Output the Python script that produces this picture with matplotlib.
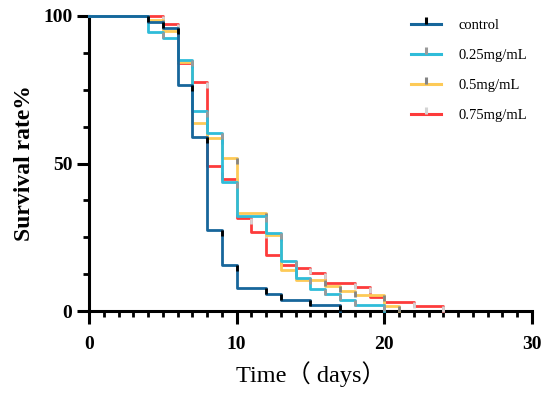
import matplotlib
matplotlib.use("Agg")
import matplotlib.pyplot as plt
from matplotlib.lines import Line2D
from matplotlib.ticker import MultipleLocator

# survival curves: times where the step changes and survival (%) from that time on
control_t = [0, 4, 5, 6, 7, 8, 9, 10, 12, 13, 15, 17]
control_s = [100, 98, 96, 76.5, 59, 27.5, 15.7, 7.8, 5.9, 3.9, 2, 0]

c025_t = [0, 4, 5, 6, 7, 8, 9, 10, 12, 13, 14, 15, 16, 17, 18, 20]
c025_s = [100, 94.5, 92.5, 85, 67.8, 60.4, 43.6, 32.3, 26.5, 16.8, 11.3, 7.6, 5.8, 3.8, 1.9, 0]

c05_t = [0, 4, 5, 6, 7, 8, 9, 10, 12, 13, 14, 16, 17, 18, 20, 21]
c05_s = [100, 98.6, 95, 84.5, 63.8, 58.5, 51.8, 33.1, 25.9, 13.9, 10.6, 8.5, 6.9, 5.4, 1.7, 0]

c075_t = [0, 5, 6, 7, 8, 9, 10, 11, 12, 13, 14, 15, 16, 18, 19, 20, 22, 24]
c075_s = [100, 97.2, 84, 77.7, 49.2, 44.6, 31.6, 26.9, 19, 15.6, 14.5, 12.8, 9.6, 8, 4.9, 3.2, 1.7, 0]

labels = ["control", "0.25mg/mL", "0.5mg/mL", "0.75mg/mL"]
colors = ["#17669b", "#2fbcd9", "#fdca57", "#fd3b3b"]
mark_colors = ["#000000", "#9a9a9a", "#858585", "#d4d4d4"]
curves = [(control_t, control_s), (c025_t, c025_s), (c05_t, c05_s), (c075_t, c075_s)]
zorders = [6, 5, 4, 3]

tick_down = [(0, 0), (0, -1)]
tick_up = [(0, 0), (0, 1)]

fig = plt.figure(figsize=(5.5, 3.96), dpi=100)
ax = fig.add_axes([0.162, 0.2146, 0.805, 0.745])

handles = []
for (t, s), lab, col, mc, z in zip(curves, labels, colors, mark_colors, zorders):
    ax.step(t, s, where="post", color=col, lw=2, zorder=z, clip_on=False)
    # censor ticks just below the top of each drop
    ax.plot(t[1:], s[:-1], ls="none", marker=tick_down, ms=9, mew=2, mfc="none",
            mec=mc, zorder=z + 0.5, clip_on=False)
    handles.append(Line2D([0], [0], color=col, lw=2.2, marker=tick_up, ms=10,
                          mew=2.2, mfc="none", mec=mc))

ax.set_xlim(0, 30)
ax.set_ylim(0, 100)
ax.xaxis.set_major_locator(MultipleLocator(10))
ax.xaxis.set_minor_locator(MultipleLocator(1))
ax.yaxis.set_major_locator(MultipleLocator(50))
ax.yaxis.set_minor_locator(MultipleLocator(12.5))

for side in ["top", "right"]:
    ax.spines[side].set_visible(False)
for side in ["left", "bottom"]:
    ax.spines[side].set_linewidth(2.2)

ax.tick_params(which="major", length=9, width=2.2, direction="out")
ax.tick_params(which="minor", length=4.5, width=2)
ax.tick_params(axis="x", which="major", pad=9)
ax.tick_params(axis="y", which="major", pad=3)
for lbl in ax.get_xticklabels() + ax.get_yticklabels():
    lbl.set_fontfamily("Liberation Serif")
    lbl.set_fontweight("bold")
    lbl.set_fontsize(14)

ax.set_ylabel("Survival rate%", fontfamily="Liberation Serif", fontweight="bold",
              fontsize=17, labelpad=6)
ax.set_xlabel("Time（ days）", family=["Liberation Serif", "Noto Sans CJK SC"],
              fontsize=17.5, labelpad=6)

leg = ax.legend(handles, labels, loc="upper right", bbox_to_anchor=(1.02, 1.035),
                frameon=False, handlelength=2.1, labelspacing=1.15, handletextpad=1.2,
                prop={"family": "Liberation Serif", "size": 10.5})

fig.savefig("out.png", dpi=100)
